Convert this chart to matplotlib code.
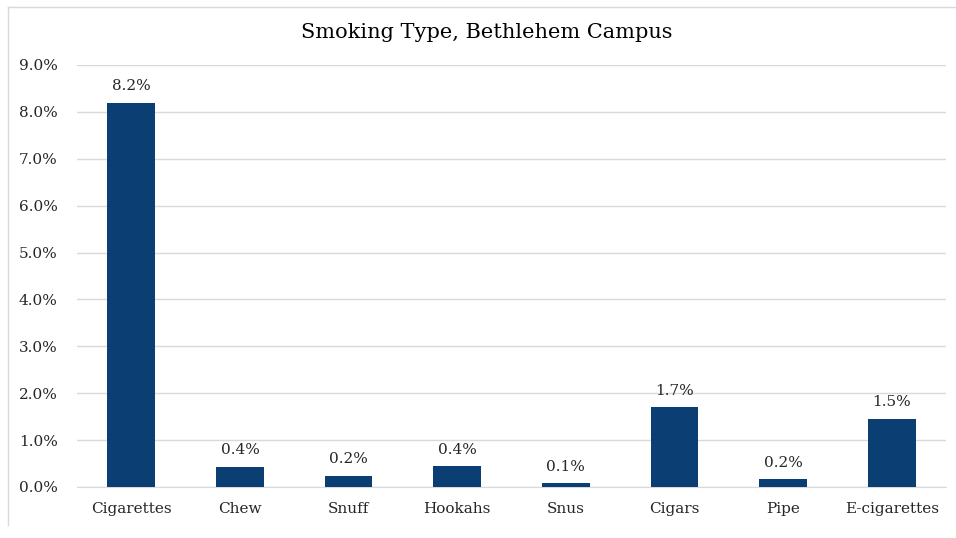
import matplotlib.pyplot as plt
from matplotlib.lines import Line2D
from matplotlib.ticker import FuncFormatter

categories = ['Cigarettes', 'Chew', 'Snuff', 'Hookahs', 'Snus', 'Cigars', 'Pipe', 'E-cigarettes']
values = [8.2, 0.43, 0.24, 0.44, 0.08, 1.70, 0.16, 1.46]  # percent

bar_color = '#0B3F73'
grid_color = '#D9D9D9'
text_color = '#262626'

plt.rcParams['font.family'] = ['DejaVu Serif']

fig = plt.figure(figsize=(9.56, 5.38), dpi=100)
ax = fig.add_axes([77/956, 1 - 487/538, (946 - 77)/956, (487 - 65)/538])

x = range(len(categories))
bars = ax.bar(x, values, width=0.44, color=bar_color, zorder=3)
for xi, v in zip(x, values):
    ax.annotate(f'{v:.1f}%', (xi, v), xytext=(0, 7), textcoords='offset points',
                ha='center', va='bottom', fontsize=11, color=text_color)

ax.set_xlim(-0.5, len(categories) - 0.5)
ax.set_ylim(0, 9)
ax.set_yticks(range(10))
ax.yaxis.set_major_formatter(FuncFormatter(lambda v, p: f'{v:.1f}%'))
ax.set_xticks(list(x))
ax.set_xticklabels(categories)
ax.tick_params(length=0, labelsize=11, colors=text_color)
ax.tick_params(axis='x', pad=11)
ax.tick_params(axis='y', pad=14)
ax.grid(axis='y', color=grid_color, lw=1, zorder=0)
for s in ['top', 'right', 'left']:
    ax.spines[s].set_visible(False)
ax.spines['bottom'].set_color(grid_color)

fig.text(0.5 * (300 + 673) / 956, 1 - 32/538, 'Smoking Type, Bethlehem Campus',
         ha='center', va='center', fontsize=15, color='black')

# outer chart frame (left and top edges visible)
fig.add_artist(Line2D([8/956, 8/956], [1 - 525/538, 1 - 7/538], color=grid_color, lw=1))
fig.add_artist(Line2D([8/956, 1], [1 - 7/538, 1 - 7/538], color=grid_color, lw=1))

fig.savefig('out.png', dpi=100)
